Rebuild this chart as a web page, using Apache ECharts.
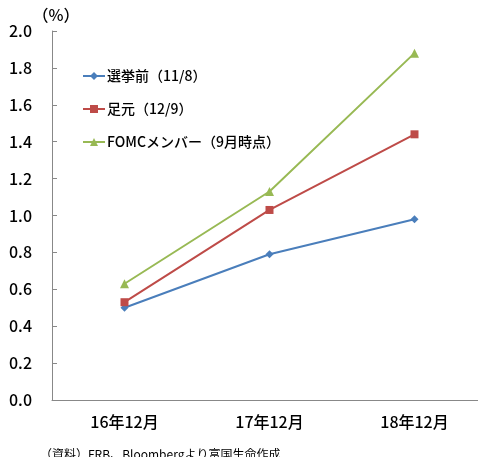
<!DOCTYPE html>
<html>
<head>
<meta charset="utf-8">
<script src="https://cdn.jsdelivr.net/npm/echarts@6/dist/echarts.min.js"></script>
<style>
  html, body { margin: 0; padding: 0; background: #fff; }
  #chart { width: 478px; height: 457px; }
</style>
</head>
<body>
<div id="chart"></div>
<script>
// 予想政策金利（中央値）
const categories = ['16年12月', '17年12月', '18年12月'];
const beforeElection = [0.50, 0.79, 0.98];   // 選挙前(11/8)
const current = [0.53, 1.03, 1.44];          // 足元(12/9)
const fomcMembers = [0.63, 1.13, 1.88];      // FOMCメンバー(9月時点)
const yTicks = { min: 0, max: 2.0, interval: 0.2 };

const font = '"Noto Sans CJK JP", "Noto Sans", sans-serif';
const chart = echarts.init(document.getElementById('chart'));

const option = {
  animation: false,
  textStyle: { fontFamily: font, color: '#000' },
  grid: { left: 52, top: 31, width: 435, height: 369, outerBoundsMode: 'none' },
  legend: {
    orient: 'vertical',
    left: 77,
    top: 64,
    itemGap: 19,
    itemWidth: 22,
    itemHeight: 10,
    textStyle: { fontFamily: font, fontSize: 14, fontWeight: 500, color: '#000', padding: [0, 0, 0, -3] },
    data: ['選挙前（11/8）', '足元（12/9）', 'FOMCメンバー（9月時点）']
  },
  xAxis: {
    type: 'category',
    data: categories,
    boundaryGap: true,
    axisLine: { lineStyle: { color: '#888' } },
    axisTick: { inside: true, length: 4, lineStyle: { color: '#888' } },
    axisLabel: { fontSize: 16, fontWeight: 500, color: '#000', margin: 14, fontFamily: font }
  },
  yAxis: {
    type: 'value',
    min: yTicks.min,
    max: yTicks.max,
    interval: yTicks.interval,
    name: '（%）',
    nameGap: 6,
    nameTextStyle: { fontSize: 16, fontWeight: 500, color: '#000', fontFamily: font, align: 'center', padding: [0, 0, 0, 8] },
    splitLine: { show: false },
    axisLine: { show: true, lineStyle: { color: '#888' } },
    axisTick: { show: true, inside: true, length: 5, lineStyle: { color: '#888' } },
    axisLabel: {
      fontSize: 16, fontWeight: 500, color: '#000', margin: 20, fontFamily: font,
      formatter: v => v.toFixed(1)
    }
  },
  series: [
    {
      name: '選挙前（11/8）',
      type: 'line',
      data: beforeElection,
      symbol: 'diamond',
      symbolSize: 8,
      itemStyle: { color: '#4a7ebb' },
      lineStyle: { width: 2, color: '#4a7ebb' }
    },
    {
      name: '足元（12/9）',
      type: 'line',
      data: current,
      symbol: 'rect',
      symbolSize: 8,
      itemStyle: { color: '#be4b48' },
      lineStyle: { width: 2, color: '#be4b48' }
    },
    {
      name: 'FOMCメンバー（9月時点）',
      type: 'line',
      data: fomcMembers,
      symbol: 'triangle',
      symbolSize: 9,
      itemStyle: { color: '#98b954' },
      lineStyle: { width: 2, color: '#98b954' }
    }
  ],
  graphic: [
    {
      type: 'text',
      left: 40,
      top: 448,
      style: {
        text: '（資料）FRB、Bloombergより富国生命作成',
        font: '12px ' + font,
        fill: '#000'
      }
    }
  ]
};

chart.setOption(option);
</script>
</body>
</html>
